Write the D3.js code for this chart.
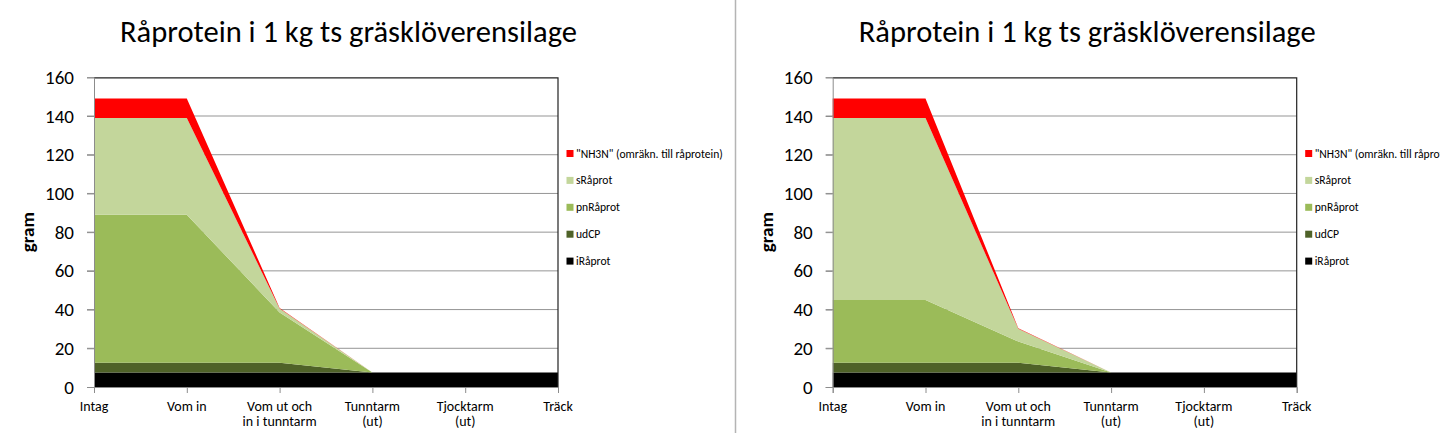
<!DOCTYPE html>
<html>
<head>
<meta charset="utf-8">
<script src="https://cdn.jsdelivr.net/npm/d3@7"></script>
<style>
    html, body { margin: 0; padding: 0; background: #fff; }
    svg { display: block; font-family: Carlito, Calibri, Lato, sans-serif; }
</style>
</head>
<body>
<div id="chart"></div>
<script>
// Categories (x axis), each label split into its lines
var categories = [
    ['Intag'],
    ['Vom in'],
    ['Vom ut och', 'in i tunntarm'],
    ['Tunntarm', '(ut)'],
    ['Tjocktarm', '(ut)'],
    ['Träck']
];
var seriesNames = ['iRåprot', 'udCP', 'pnRåprot', 'sRåprot', '"NH3N" (omräkn. till råprotein)'];
var yTicks = [0, 20, 40, 60, 80, 100, 120, 140, 160];
var chartTitle = 'Råprotein i 1 kg ts gräsklöverensilage';
var yLabel = 'gram';

// Left chart (grams)
var leftIRaprot  = [7.5, 7.5, 7.5, 7.5, 7.5, 7.5];
var leftUdCP     = [5, 5, 5, 0, 0, 0];
var leftPnRaprot = [76.5, 76.5, 26, 0, 0, 0];
var leftSRaprot  = [50, 50, 2, 0, 0, 0];
var leftNH3N     = [10, 10, 0.3, 0, 0, 0];

// Right chart (grams)
var rightIRaprot  = [7.5, 7.5, 7.5, 7.5, 7.5, 7.5];
var rightUdCP     = [5, 5, 5, 0, 0, 0];
var rightPnRaprot = [32.5, 32.5, 11, 0, 0, 0];
var rightSRaprot  = [94, 94, 6.6, 0, 0, 0];
var rightNH3N     = [10, 10, 0.3, 0, 0, 0];

(function() {
    'use strict';

    var colors = ['#000000', '#4f6228', '#9bbb59', '#c3d69b', '#ff0000'];

    var width = 1440, height = 435;
    var panelOffset = 738.7;
    var margin = { top: 77.3, left: 94 };
    var plotW = 464, plotH = 309.7;

    var svg = d3.select('#chart').append('svg')
        .attr('width', width)
        .attr('height', height);

    // divider between the two charts
    svg.append('line')
        .attr('x1', 735.5).attr('x2', 735.5)
        .attr('y1', 0).attr('y2', 433)
        .attr('stroke', '#b4b4b4')
        .attr('stroke-width', 1.5);

    function toRows(series) {
        return categories.map(function(c, i) {
            var row = { cat: i };
            seriesNames.forEach(function(name, k) { row[name] = series[k][i]; });
            return row;
        });
    }

    function drawPanel(offsetX, series) {
        var root = svg.append('g').attr('transform', 'translate(' + offsetX + ',0)');

        var x = d3.scalePoint().domain(d3.range(categories.length)).range([0, plotW]).padding(0);
        var y = d3.scaleLinear().domain([0, 160]).range([plotH, 0]);

        // title
        var title = root.append('text')
            .attr('x', 348.5)
            .attr('y', 42)
            .attr('text-anchor', 'middle')
            .attr('font-size', '28px')
            .attr('fill', '#000')
            .text(chartTitle);
        var tw = title.node().getComputedTextLength();
        title.attr('font-size', (28 * 457 / tw).toFixed(2) + 'px');

        var g = root.append('g')
            .attr('transform', 'translate(' + margin.left + ',' + margin.top + ')');

        // grid lines + y ticks
        g.append('g')
            .selectAll('line')
            .data(yTicks.filter(function(t) { return t > 0 && t < 160; }))
            .join('line')
            .attr('x1', -7).attr('x2', plotW)
            .attr('y1', function(d) { return y(d); })
            .attr('y2', function(d) { return y(d); })
            .attr('stroke', '#959595')
            .attr('stroke-width', 1);

        // stacked areas
        var stack = d3.stack().keys(seriesNames);
        var layers = stack(toRows(series));
        var area = d3.area()
            .x(function(d) { return x(d.data.cat); })
            .y0(function(d) { return y(d[0]); })
            .y1(function(d) { return y(d[1]); });

        g.append('g')
            .selectAll('path')
            .data(layers)
            .join('path')
            .attr('d', area)
            .attr('fill', function(d, i) { return colors[i]; });

        // plot border top/right
        g.append('path')
            .attr('d', 'M0,0.5H' + plotW + 'V' + plotH)
            .attr('fill', 'none')
            .attr('stroke', '#222')
            .attr('stroke-width', 1.2);

        // y axis
        var yAxis = d3.axisLeft(y).tickValues(yTicks).tickSize(7).tickPadding(13);
        var ya = g.append('g').call(yAxis);
        ya.select('.domain').attr('stroke', '#8c8c8c');
        ya.selectAll('.tick line').attr('stroke', '#8c8c8c');
        ya.selectAll('text')
            .attr('font-family', 'Carlito, Calibri, Lato, sans-serif')
            .attr('font-size', '19px')
            .attr('fill', '#000');

        // x axis
        var xAxis = d3.axisBottom(x).tickSize(6).tickFormat('');
        var xa = g.append('g').attr('transform', 'translate(0,' + plotH + ')').call(xAxis);
        xa.select('.domain').attr('stroke', '#8c8c8c');
        xa.selectAll('.tick line').attr('stroke', '#8c8c8c');

        var xl = g.append('g').selectAll('text')
            .data(categories)
            .join('text')
            .attr('x', function(d, i) { return x(i); })
            .attr('y', plotH + 24)
            .attr('text-anchor', 'middle')
            .attr('font-size', '14px')
            .attr('fill', '#000');
        xl.selectAll('tspan')
            .data(function(d) { return d; })
            .join('tspan')
            .attr('x', function() { return d3.select(this.parentNode).attr('x'); })
            .attr('dy', function(d, i) { return i === 0 ? 0 : 15.5; })
            .text(function(d) { return d; });

        // y label
        root.append('text')
            .attr('transform', 'translate(34,' + (margin.top + plotH / 2) + ') rotate(-90)')
            .attr('text-anchor', 'middle')
            .attr('font-size', '19px')
            .attr('font-weight', 700)
            .attr('fill', '#000')
            .text(yLabel);

        // legend (top series first)
        var legendG = root.append('g').attr('transform', 'translate(566.5,0)');
        var legendItems = seriesNames.map(function(n, i) { return { name: n, color: colors[i] }; }).reverse();
        legendItems.forEach(function(item, i) {
            var ly = 154 + i * 26.9;
            legendG.append('rect')
                .attr('x', 0).attr('y', ly - 4)
                .attr('width', 7).attr('height', 7)
                .attr('fill', item.color);
            legendG.append('text')
                .attr('x', 9.5).attr('y', ly + 3.5)
                .attr('font-size', '11.6px')
                .attr('fill', '#000')
                .text(item.name);
        });
    }

    drawPanel(0, [leftIRaprot, leftUdCP, leftPnRaprot, leftSRaprot, leftNH3N]);
    drawPanel(panelOffset, [rightIRaprot, rightUdCP, rightPnRaprot, rightSRaprot, rightNH3N]);
})();
</script>
</body>
</html>
